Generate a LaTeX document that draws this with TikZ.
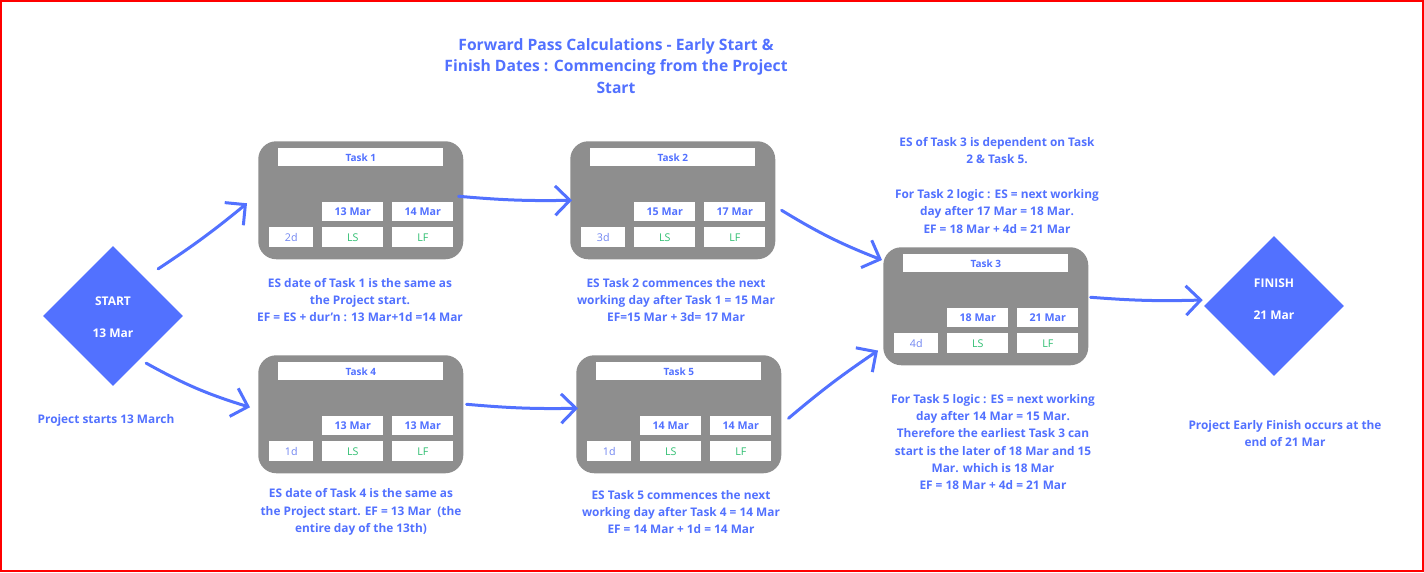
\documentclass[tikz,border=0pt]{standalone}
\usepackage{fontspec}
\setmainfont{Open Sans}
\usepackage{tikz}
\usepackage{xcolor}
\usetikzlibrary{shapes.geometric, arrows.meta, calc}

\definecolor{pmblue}{HTML}{5271FF}
\definecolor{pmgreen}{HTML}{2FBF71}
\definecolor{pmgray}{HTML}{8E8E8E}
\definecolor{pmdur}{HTML}{7085F2}

\tikzset{
  card/.style={fill=pmgray, rounded corners=13.5pt, minimum width=153.75pt, minimum height=88.5pt, inner sep=0pt, anchor=north west},
  hdr/.style={fill=white, minimum width=123.75pt, minimum height=13.5pt, inner sep=0pt, anchor=north west, text=pmblue, font=\fontsize{7.5}{9}\selectfont\bfseries},
  datebox/.style={fill=white, minimum width=45.75pt, minimum height=14.25pt, inner sep=0pt, anchor=north west, text=pmblue, font=\fontsize{8}{9}\selectfont\bfseries},
  durbox/.style={fill=white, minimum width=33pt, minimum height=15pt, inner sep=0pt, anchor=north west, text=pmdur, font=\fontsize{8}{9}\selectfont},
  latebox/.style={fill=white, minimum width=45.75pt, minimum height=15pt, inner sep=0pt, anchor=north west, text=pmgreen, font=\fontsize{8}{9}\selectfont},
  milestone/.style={diamond, fill=pmblue, aspect=1, minimum width=105pt, minimum height=105pt, inner sep=0pt},
  mslabel/.style={text=white, align=center, font=\fontsize{9}{11}\selectfont\bfseries},
  note/.style={text=pmblue, align=center, inner sep=0pt, font=\fontsize{8.9}{13}\selectfont\bfseries},
  flow/.style={draw=pmblue, line width=2.25pt, line cap=round, -{Straight Barb[length=11pt,width=22pt]}}
}

\begin{document}
\begin{tikzpicture}[x=0.75pt,y=0.75pt,yscale=-1,xscale=1]
\useasboundingbox (0,0) rectangle (1424,572);

%Shape: Rectangle [frame]
\draw [color=red, line width=1.65pt] (1,1) rectangle (1422.7,570.6) ;

% Text Node [title]
\node (title) [note, font=\fontsize{11.75}{16}\selectfont\bfseries] at (616,66) {Forward Pass Calculations - Early Start \&\\Finish Dates : Commencing from the Project\\Start};

%Shape: Diamond [start]
\node (start) [milestone] at (113,316) {};
\node (startlbl) [mslabel] at (113,317) {START\\[13pt]13 Mar};
%Shape: Diamond [finish]
\node (finish) [milestone] at (1274,306) {};
\node (finishlbl) [mslabel] at (1274,299) {FINISH\\[13pt]21 Mar};

%Rounded Rect [Task 1]
\node (t1) [card] at (258,141) {};
\node (t1hdr) [hdr] at (278,148) {Task 1};
\node (t1es) [datebox] at (322,202) {13 Mar};
\node (t1ef) [datebox] at (392,202) {14 Mar};
\node (t1dur) [durbox] at (269,227) {2d};
\node (t1ls) [latebox] at (322,227) {LS};
\node (t1lf) [latebox] at (392,227) {LF};

%Rounded Rect [Task 2]
\node (t2) [card] at (570,141) {};
\node (t2hdr) [hdr] at (590,148) {Task 2};
\node (t2es) [datebox] at (634,202) {15 Mar};
\node (t2ef) [datebox] at (704,202) {17 Mar};
\node (t2dur) [durbox] at (581,227) {3d};
\node (t2ls) [latebox] at (634,227) {LS};
\node (t2lf) [latebox] at (704,227) {LF};

%Rounded Rect [Task 3]
\node (t3) [card] at (883,247) {};
\node (t3hdr) [hdr] at (903,254) {Task 3};
\node (t3es) [datebox] at (947,308) {18 Mar};
\node (t3ef) [datebox] at (1017,308) {21 Mar};
\node (t3dur) [durbox] at (894,333) {4d};
\node (t3ls) [latebox] at (947,333) {LS};
\node (t3lf) [latebox] at (1017,333) {LF};

%Rounded Rect [Task 4]
\node (t4) [card] at (258,355) {};
\node (t4hdr) [hdr] at (278,362) {Task 4};
\node (t4es) [datebox] at (322,416) {13 Mar};
\node (t4ef) [datebox] at (392,416) {13 Mar};
\node (t4dur) [durbox] at (269,441) {1d};
\node (t4ls) [latebox] at (322,441) {LS};
\node (t4lf) [latebox] at (392,441) {LF};

%Rounded Rect [Task 5]
\node (t5) [card] at (576,355) {};
\node (t5hdr) [hdr] at (596,362) {Task 5};
\node (t5es) [datebox] at (640,416) {14 Mar};
\node (t5ef) [datebox] at (710,416) {14 Mar};
\node (t5dur) [durbox] at (587,441) {1d};
\node (t5ls) [latebox] at (640,441) {LS};
\node (t5lf) [latebox] at (710,441) {LF};

%Curve Lines
\draw [flow] ($(start.north east)+(10,-12)$) to[bend left=3] ($(t1.west)+(-11,3)$) ;
%Curve Lines
\draw [flow] ($(start.south east)+(-2,12)$) to[bend left=6] ($(t4.west)+(-8,-7)$) ;
%Curve Lines
\draw [flow] ($(t1.east)+(-5,-4)$) to[bend left=3] ($(t2.west)+(2,0)$) ;
%Curve Lines
\draw [flow] ($(t2.east)+(6,10)$) to[bend left=5] ($(t3.north west)+(-1,13)$) ;
%Curve Lines
\draw [flow] ($(t5.east)+(7,4)$) to[bend right=3] ($(t3.south west)+(-5,-15)$) ;
%Curve Lines
\draw [flow] ($(t4.east)+(3,-10)$) to[bend left=3] ($(t5.west)+(2,-6)$) ;
%Curve Lines
\draw [flow] ($(t3.east)+(2,-9)$) to[bend left=3] ($(finish.west)+(-1,-6)$) ;

% Text Node
\node (note1) [note] at (360,300) {ES date of Task 1 is the same as\\the Project start.\\EF = ES + dur’n : 13 Mar+1d =14 Mar};
% Text Node
\node (note2) [note] at (676,300) {ES Task 2 commences the next\\working day after Task 1 = 15 Mar\\EF=15 Mar + 3d= 17 Mar};
% Text Node
\node (note4) [note] at (361,512) {ES date of Task 4 is the same as\\the Project start. EF = 13 Mar~ (the\\entire day of the 13th)};
% Text Node
\node (note5) [note] at (681,512) {ES Task 5 commences the next\\working day after Task 4 = 14 Mar\\EF = 14 Mar + 1d = 14 Mar};
% Text Node
\node (note3a) [note] at (997,185.5) {ES of Task 3 is dependent on Task\\2 \& Task 5.\\[13pt]For Task 2 logic : ES = next working\\day after 17 Mar = 18 Mar.\\EF = 18 Mar + 4d = 21 Mar};
% Text Node
\node (note3b) [note] at (993,442) {For Task 5 logic : ES = next working\\day after 14 Mar = 15 Mar.\\Therefore the earliest Task 3 can\\start is the later of 18 Mar and 15\\Mar. which is 18 Mar\\EF = 18 Mar + 4d = 21 Mar};
% Text Node
\node (startnote) [note] at (106,420) {Project starts 13 March};
% Text Node
\node (finishnote) [note] at (1285,433.5) {Project Early Finish occurs at the\\end of 21 Mar};

\end{tikzpicture}
\end{document}
